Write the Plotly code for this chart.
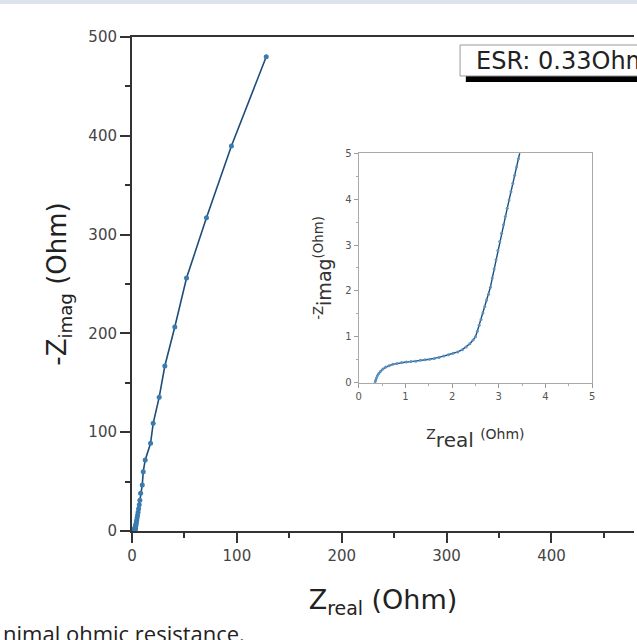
import plotly.graph_objects as go

# Low-impedance region (also shown in inset), Ohm
z_real_low = [0.35, 0.36, 0.38, 0.40, 0.43, 0.47, 0.52, 0.58, 0.65, 0.73, 0.82, 0.92,
              1.02, 1.12, 1.22, 1.32, 1.42, 1.52, 1.62, 1.72, 1.82, 1.92, 2.02, 2.12,
              2.22, 2.30, 2.38, 2.45, 2.50, 2.54, 2.58, 2.62, 2.66, 2.70, 2.74, 2.78,
              2.82, 2.86, 2.90, 2.94, 2.98, 3.02, 3.06, 3.10, 3.14, 3.18, 3.22, 3.26,
              3.30, 3.34, 3.38, 3.42, 3.46]
z_imag_low = [0.00, 0.05, 0.10, 0.15, 0.20, 0.25, 0.30, 0.34, 0.37, 0.40, 0.42, 0.44,
              0.45, 0.46, 0.47, 0.49, 0.50, 0.51, 0.53, 0.55, 0.58, 0.61, 0.64, 0.67,
              0.72, 0.78, 0.85, 0.93, 1.00, 1.12, 1.25, 1.38, 1.52, 1.66, 1.80, 1.93,
              2.08, 2.28, 2.48, 2.68, 2.88, 3.08, 3.26, 3.44, 3.62, 3.80, 3.98, 4.16,
              4.34, 4.52, 4.70, 4.88, 5.06]

# Higher-impedance region (main plot only), Ohm
z_real_high = [3.7, 3.9, 4.2, 4.5, 4.9, 5.3, 5.8, 6.3, 6.9, 7.5, 8.2, 9.8, 10.7, 12.6,
               17.7, 20.2, 25.9, 31.3, 40.8, 52.0, 71.0, 94.8, 128.0]
z_imag_high = [6.0, 7.5, 9.0, 11.0, 13.5, 16.0, 19.0, 22.5, 26.5, 31.0, 38.2, 46.6, 60.0,
               71.9, 88.8, 109.0, 135.3, 167.0, 206.5, 256.0, 317.0, 389.7, 480.0]

z_real_all = z_real_low + z_real_high
z_imag_all = z_imag_low + z_imag_high

esr_label = "ESR: 0.33Ohm"
caption = "nimal ohmic resistance."

LINE_C = "#1d4d78"
MARK_C = "#3a7bb0"
FONT = "DejaVu Sans, sans-serif"

fig = go.Figure()
fig.add_trace(go.Scatter(x=z_real_all, y=z_imag_all, mode="lines+markers",
                         line=dict(color=LINE_C, width=1.6),
                         marker=dict(color=MARK_C, size=5),
                         xaxis="x", yaxis="y", showlegend=False))
fig.add_trace(go.Scatter(x=z_real_low, y=z_imag_low, mode="lines+markers",
                         line=dict(color=LINE_C, width=1.4),
                         marker=dict(color="#5a93c2", size=3),
                         xaxis="x2", yaxis="y2", showlegend=False))

main_ax = dict(showline=True, linecolor="#333", linewidth=2, ticks="outside",
               ticklen=10, tickwidth=1.5, tickcolor="#333", showgrid=False,
               zeroline=False, tickfont=dict(size=15, color="#444", family=FONT))

ins_ax = dict(showline=True, linecolor="#aaa", linewidth=1, mirror=True,
              ticks="outside", ticklen=4, tickcolor="#999", showgrid=False,
              zeroline=False, range=[0, 5], dtick=1,
              tickfont=dict(size=10, color="#555", family=FONT),
              minor=dict(ticks="outside", ticklen=2, tickcolor="#aaa", dtick=0.5))

fig.update_layout(
    width=637, height=640,
    margin=dict(l=132, r=0, t=37, b=109),
    plot_bgcolor="white", paper_bgcolor="white",
    font=dict(family=FONT),
    xaxis=dict(**main_ax, range=[0, 478.7], dtick=100, mirror=True,
               minor=dict(ticks="outside", ticklen=5, tickcolor="#333", dtick=50),
               title=dict(text="Z<sub>real</sub> (Ohm)", font=dict(size=27, color="#222"),
                          standoff=26)),
    yaxis=dict(**main_ax, range=[0, 500], dtick=100,
               minor=dict(ticks="outside", ticklen=5, tickcolor="#333", dtick=50),
               title=dict(text="-Z<sub>imag</sub> (Ohm)", font=dict(size=26, color="#222"),
                          standoff=14)),
    xaxis2=dict(**ins_ax, domain=[0.4515, 0.9168], anchor="y2",
                title=dict(text="<sup>Z</sup>real <sup>(Ohm)</sup>",
                           font=dict(size=20, color="#333"), standoff=32)),
    yaxis2=dict(**ins_ax, domain=[0.3002, 0.7646], anchor="x2",
                title=dict(text="<sup>-Z</sup>imag<sup>(Ohm)</sup>",
                           font=dict(size=19, color="#333"), standoff=8)),
)

# thin band along the top edge
fig.add_shape(type="rect", xref="paper", yref="paper", x0=-0.3, x1=1.05,
              y0=1.0668, y1=1.08, fillcolor="#dde3ec", line=dict(width=0))
# ESR box with shadow
fig.add_shape(type="rect", xref="paper", yref="paper", x0=0.665, x1=1.05,
              y0=0.9089, y1=0.9211, fillcolor="black", line=dict(width=0))
fig.add_shape(type="rect", xref="paper", yref="paper", x0=0.6535, x1=1.05,
              y0=0.9211, y1=0.9838, fillcolor="white", line=dict(color="#999", width=1))
fig.add_annotation(text=esr_label, xref="paper", yref="paper", x=0.681, y=0.951,
                   xanchor="left", yanchor="middle", showarrow=False,
                   font=dict(size=24, color="#222", family=FONT))
fig.add_annotation(text=caption, xref="paper", yref="paper", x=-0.2614, y=-0.172,
                   xanchor="left", yanchor="top", showarrow=False,
                   font=dict(size=22, color="#222", family="Open Sans, sans-serif"))

fig.write_html(
    "out.html",
    config={"displayModeBar": False},
    post_script=("document.body.style.margin='0';"
                 "document.body.style.overflow='hidden';"
                 "document.documentElement.style.overflow='hidden';"),
)
